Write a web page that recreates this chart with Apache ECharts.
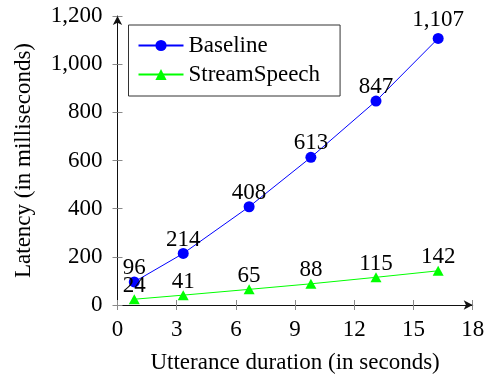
<!DOCTYPE html>
<html>
<head>
<meta charset="utf-8">
<script src="https://cdn.jsdelivr.net/npm/echarts@6/dist/echarts.min.js"></script>
<style>html,body{margin:0;padding:0;background:#fff;}#c{width:487px;height:374px;}</style>
</head>
<body>
<div id="c"></div>
<script>
const durations = [0.85, 3.33, 6.67, 9.8, 13.1, 16.25];
const baseline = [96, 214, 408, 613, 847, 1107];
const streamSpeech = [24, 41, 65, 88, 115, 142];
const seriesNames = ['Baseline', 'StreamSpeech'];
const xTicks = [0, 3, 6, 9, 12, 15, 18];
const yTicks = [0, 200, 400, 600, 800, 1000, 1200];

const FONT = '"Liberation Serif", "Times New Roman", serif';
const FS = 23;
const chart = echarts.init(document.getElementById('c'), null, {renderer: 'canvas'});
const fmt = v => v.toLocaleString('en-US');

const tickStyle = {color: '#8a8a8a', width: 1};
function xAx(inside, main) {
  return {
    type: 'value', min: xTicks[0], max: xTicks[xTicks.length - 1], interval: 3, position: 'bottom',
    axisLine: main ? {show: true, onZero: false, lineStyle: {color: '#111', width: 1}, symbol: ['none', 'arrow'], symbolSize: [7, 9]} : {show: false},
    axisTick: {show: true, inside: inside, length: 5, lineStyle: tickStyle},
    axisLabel: main ? {show: true, color: '#000', fontFamily: FONT, fontSize: FS, margin: 13} : {show: false},
    splitLine: {show: false},
    name: main ? 'Utterance duration (in seconds)' : '',
    nameLocation: 'middle', nameGap: 46,
    nameTextStyle: {color: '#000', fontFamily: FONT, fontSize: FS}
  };
}
function yAx(inside, main) {
  return {
    type: 'value', min: yTicks[0], max: yTicks[yTicks.length - 1], interval: 200, position: 'left',
    axisLine: main ? {show: true, onZero: false, lineStyle: {color: '#111', width: 1}, symbol: ['none', 'arrow'], symbolSize: [7, 9]} : {show: false},
    axisTick: {show: true, inside: inside, length: 5, lineStyle: tickStyle},
    axisLabel: main ? {show: true, color: '#000', fontFamily: FONT, fontSize: FS, margin: 15, formatter: v => fmt(v)} : {show: false},
    splitLine: {show: false},
    name: main ? 'Latency (in milliseconds)' : '',
    nameLocation: 'middle', nameGap: 82,
    nameTextStyle: {color: '#000', fontFamily: FONT, fontSize: FS}
  };
}

function makeData(vals) {
  return durations.map((d, i) => ({
    value: [d, vals[i]],
    label: vals[i] >= 1000 ? {offset: [0, -1]} : {offset: [0, 3]}
  }));
}
const labelCfg = {show: true, position: 'top', distance: 0, color: '#000', fontFamily: FONT, fontSize: FS, formatter: p => fmt(p.value[1])};

chart.setOption({
  animation: false,
  grid: {left: 117.5, right: 14.3, top: 16, bottom: 69, containLabel: false, outerBoundsMode: 'none'},
  legend: {
    orient: 'vertical', left: 128.5, top: 25,
    borderColor: '#333', borderWidth: 1, padding: [9, 20, 10, 9],
    itemWidth: 45, itemHeight: 14, itemGap: 6,
    textStyle: {color: '#000', fontFamily: FONT, fontSize: FS},
    data: seriesNames
  },
  xAxis: [xAx(false, false), xAx(true, true)],
  yAxis: [yAx(false, false), yAx(true, true)],
  series: [
    {
      name: seriesNames[0], type: 'line', xAxisIndex: 1, yAxisIndex: 1,
      data: makeData(baseline),
      symbol: 'circle', symbolSize: 11,
      lineStyle: {color: '#0000ff', width: 1}, itemStyle: {color: '#0000ff'},
      label: labelCfg
    },
    {
      name: seriesNames[1], type: 'line', xAxisIndex: 1, yAxisIndex: 1,
      data: makeData(streamSpeech),
      symbol: 'triangle', symbolSize: [11, 10],
      lineStyle: {color: '#00ff00', width: 1}, itemStyle: {color: '#00ff00'},
      label: labelCfg
    }
  ]
});
</script>
</body>
</html>
